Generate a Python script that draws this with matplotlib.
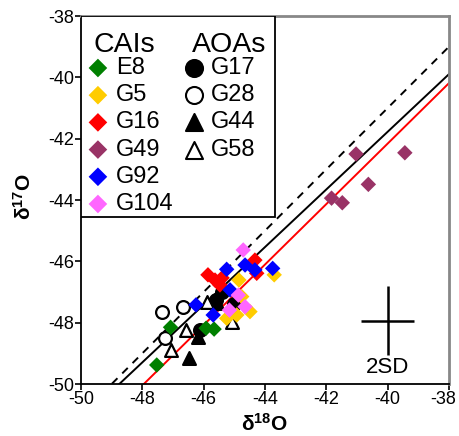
import numpy as np
import matplotlib
matplotlib.use("Agg")
from matplotlib import pyplot as plt
from matplotlib.patches import Rectangle
from matplotlib.transforms import ScaledTranslation

plt.rcParams['font.family'] = ['Liberation Sans', 'DejaVu Sans']
plt.rcParams['mathtext.fontset'] = 'custom'
plt.rcParams['mathtext.rm'] = 'Liberation Sans'
plt.rcParams['mathtext.bf'] = 'Liberation Sans:bold'
plt.rcParams['axes.unicode_minus'] = False

# CAIs (d18O, d17O)
E8_x = [-47.53, -47.08, -45.92, -45.66]
E8_y = [-49.38, -48.15, -48.18, -48.21]
G5_x = [-44.85, -43.70, -45.25, -44.92, -44.49, -44.76]
G5_y = [-46.61, -46.44, -47.86, -47.75, -47.64, -47.15]
G16_x = [-45.86, -45.63, -45.47, -45.40, -44.33, -44.27]
G16_y = [-46.44, -46.61, -46.77, -46.54, -45.96, -46.39]
G49_x = [-41.03, -39.44, -40.63, -41.83, -41.48]
G49_y = [-42.50, -42.46, -43.49, -43.94, -44.09]
G92_x = [-45.25, -44.65, -44.33, -43.75, -45.14, -46.25, -45.69]
G92_y = [-46.26, -46.12, -46.28, -46.23, -46.93, -47.42, -47.75]
G104_x = [-44.71, -44.87, -45.16, -44.65]
G104_y = [-45.63, -47.10, -47.59, -47.48]

# AOAs
G17_x = [-45.60, -46.12, -45.41, -45.00]
G17_y = [-47.26, -48.24, -46.99, -47.40]
G28_x = [-47.37, -46.66, -47.26]
G28_y = [-47.64, -47.50, -48.51]
G44_x = [-46.48, -46.18, -45.55]
G44_y = [-49.16, -48.46, -47.35]
G58_x = [-45.90, -46.59, -47.07, -45.09]
G58_y = [-47.31, -48.24, -48.89, -47.97]

# reference lines: (slope, intercept)
dash_line = (1.0, -1.0)
black_line = (0.94, -4.175)
red_line = (0.986, -2.72)

# 2SD error cross
sd_x, sd_y = -40.0, -47.93
sd_xerr, sd_yerr = 0.87, 1.12

cai_names = ['E8', 'G5', 'G16', 'G49', 'G92', 'G104']
cai_data = [(E8_x, E8_y), (G5_x, G5_y), (G16_x, G16_y),
            (G49_x, G49_y), (G92_x, G92_y), (G104_x, G104_y)]
cai_colors = ['#008000', '#FFCC00', '#FF0000', '#993366', '#0000FF', '#FF66FF']

aoa_names = ['G17', 'G28', 'G44', 'G58']
aoa_data = [(G17_x, G17_y), (G28_x, G28_y), (G44_x, G44_y), (G58_x, G58_y)]
aoa_markers = ['o', 'o', '^', '^']
aoa_fill = ['black', 'white', 'black', 'white']

fig = plt.figure(figsize=(4.59, 4.36), dpi=100)
ax = fig.add_axes([81 / 459, 52 / 436, 368 / 459, 368 / 436])

xx = np.array([-50.0, -38.0])
ax.plot(xx, dash_line[0] * xx + dash_line[1], color='black', lw=1.4, ls=(0, (4, 3.5)), zorder=2)
ax.plot(xx, black_line[0] * xx + black_line[1], color='black', lw=1.4, zorder=2)
ax.plot(xx, red_line[0] * xx + red_line[1], color='red', lw=1.4, zorder=2)

for (x, y), m, fc in zip(aoa_data, aoa_markers, aoa_fill):
    ax.scatter(x, y, marker=m, s=85, facecolor=fc, edgecolor='black', linewidth=1.6, zorder=3)

for (x, y), c in zip(cai_data, cai_colors):
    ax.scatter(x, y, marker='D', s=62, facecolor=c, edgecolor='none', zorder=4)

ax.errorbar(sd_x, sd_y, xerr=sd_xerr, yerr=sd_yerr, fmt='none', ecolor='black',
            elinewidth=1.8, capsize=0, zorder=3)
ax.text(sd_x, -49.45, '2SD', ha='center', va='center', fontsize=16)

ax.set_xlim(-50, -38)
ax.set_ylim(-50, -38)
ax.set_xticks(np.arange(-50, -37, 2))
ax.set_yticks(np.arange(-50, -37, 2))
ax.tick_params(direction='out', length=4, width=1.2, labelsize=13, top=False, right=False, pad=1)
for side in ['left', 'bottom']:
    ax.spines[side].set_linewidth(1.3)
for side in ['top', 'right']:
    ax.spines[side].set_color('#888888')
    ax.spines[side].set_linewidth(2)

# keep the last x tick label inside the figure
last = ax.get_xticklabels()[-1]
last.set_transform(last.get_transform() + ScaledTranslation(-4 / 72, 0, fig.dpi_scale_trans))

ax.set_xlabel(r'$\mathbf{δ^{18}O}$', fontsize=15)
ax.set_ylabel(r'$\mathbf{δ^{17}O}$', fontsize=15)
ax.xaxis.set_label_coords(0.5, -0.078)
ax.yaxis.set_label_coords(-0.125, 0.51)

# legend box
ax.add_patch(Rectangle((0, 0.454), 0.527, 0.546, transform=ax.transAxes,
                       facecolor='white', edgecolor='black', lw=1.3, zorder=6))
ax.text(0.033, 0.902, 'CAIs', transform=ax.transAxes, fontsize=20.5, va='baseline', zorder=7)
ax.text(0.302, 0.902, 'AOAs', transform=ax.transAxes, fontsize=20.5, va='baseline', zorder=7)
row0, step = 0.8587, 0.0739
for i, (name, c) in enumerate(zip(cai_names, cai_colors)):
    ry = row0 - i * step
    ax.scatter([0.046], [ry], marker='D', s=90, facecolor=c, edgecolor='none',
               transform=ax.transAxes, zorder=7, clip_on=False)
    ax.text(0.095, ry, name, transform=ax.transAxes, fontsize=17, va='center', zorder=7)
for i, (name, m, fc) in enumerate(zip(aoa_names, aoa_markers, aoa_fill)):
    ry = row0 - i * step
    ax.scatter([0.307], [ry], marker=m, s=150, facecolor=fc, edgecolor='black', linewidth=1.5,
               transform=ax.transAxes, zorder=7, clip_on=False)
    ax.text(0.353, ry, name, transform=ax.transAxes, fontsize=17, va='center', zorder=7)

plt.savefig('out.png', dpi=100)
